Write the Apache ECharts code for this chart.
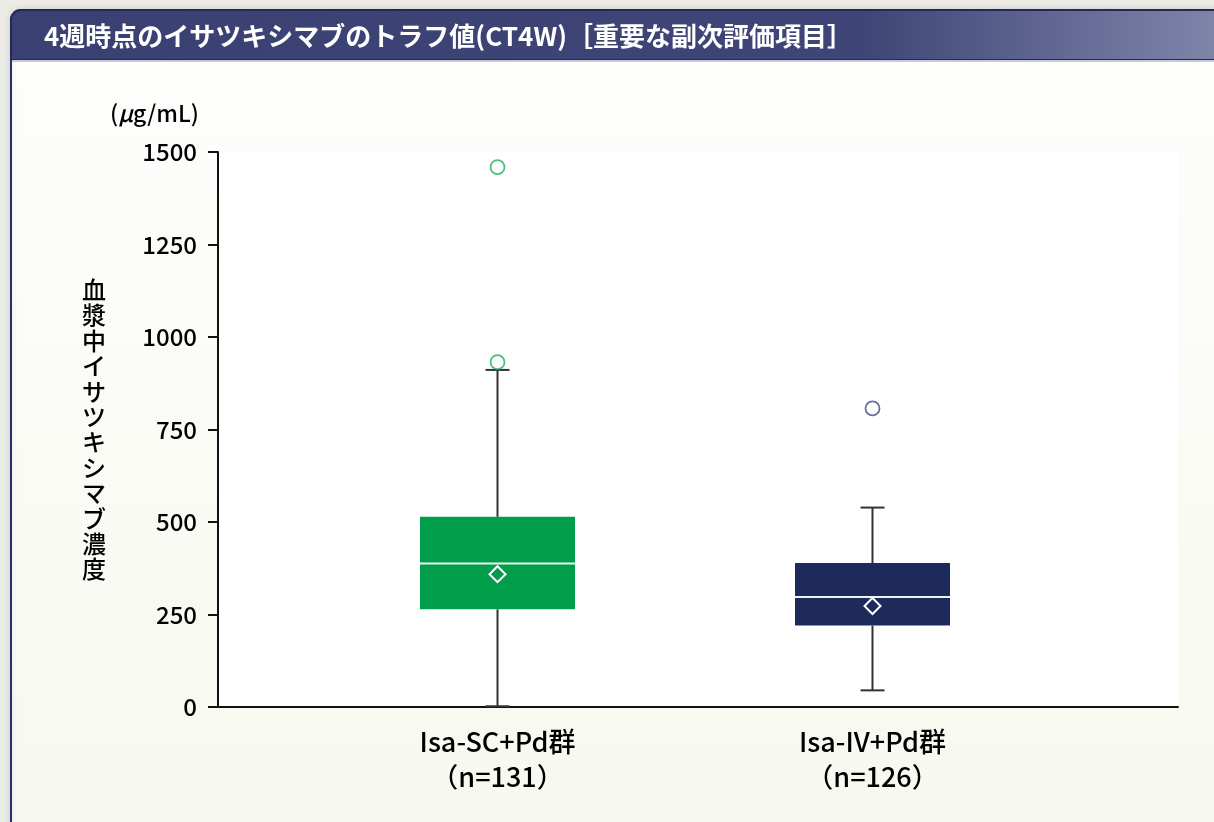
<!DOCTYPE html>
<html>
<head>
<meta charset="utf-8">
<script src="https://cdn.jsdelivr.net/npm/echarts@6/dist/echarts.min.js"></script>
<style>
  html, body { margin: 0; padding: 0; background: #ecece7; }
  #chart { width: 1214px; height: 822px; }
</style>
</head>
<body>
<div id="chart"></div>
<script>
// Trough concentration at week 4, by treatment group
const titleText = '4週時点のイサツキシマブのトラフ値(CT4W)［重要な副次評価項目］';
const yAxisTitle = '血漿中イサツキシマブ濃度';
const categories = ['Isa-SC+Pd群\n（n=131）', 'Isa-IV+Pd群\n（n=126）'];
const yTicks = { min: 0, max: 1500, interval: 250 };

// five-number summaries: [whisker low, Q1, median, Q3, whisker high]
const summarySC = [2, 264, 388, 514, 911];
const summaryIV = [45, 220, 297, 389, 539];
// group means (diamond markers)
const meanSC = 359;
const meanIV = 273;
// points outside the whiskers
const outliersSC = [1459, 932];
const outliersIV = [807];

const boxColors = ['#009e4b', '#1e2a5c'];
const outlierColors = ['#1fae62', '#3d4d80'];
const FONT = '"Noto Sans CJK JP", "Noto Sans", sans-serif';

const boxData = [
  [0, ...summarySC, meanSC],
  [1, ...summaryIV, meanIV]
];
const outlierData = [
  ...outliersSC.map(v => ({ value: [0, v], itemStyle: { borderColor: outlierColors[0] } })),
  ...outliersIV.map(v => ({ value: [1, v], itemStyle: { borderColor: outlierColors[1] } }))
];

const chart = echarts.init(document.getElementById('chart'), null, { renderer: 'canvas' });

function renderBox(params, api) {
  const idx = api.value(0);
  const low = api.value(1), q1 = api.value(2), med = api.value(3),
        q3 = api.value(4), high = api.value(5), mean = api.value(6);
  const pt = v => api.coord([idx, v]);
  const cx = pt(0)[0];
  const boxW = 155, capW = 24;
  const yLow = pt(low)[1], yQ1 = pt(q1)[1], yMed = pt(med)[1],
        yQ3 = pt(q3)[1], yHigh = pt(high)[1], yMean = pt(mean)[1];
  const whisker = { stroke: '#333333', lineWidth: 2 };
  const d = 8;
  return {
    type: 'group',
    children: [
      { type: 'line', shape: { x1: cx, y1: yHigh, x2: cx, y2: yQ3 }, style: whisker },
      { type: 'line', shape: { x1: cx, y1: yQ1, x2: cx, y2: yLow }, style: whisker },
      { type: 'line', shape: { x1: cx - capW / 2, y1: yHigh, x2: cx + capW / 2, y2: yHigh }, style: whisker },
      { type: 'line', shape: { x1: cx - capW / 2, y1: yLow, x2: cx + capW / 2, y2: yLow }, style: whisker },
      { type: 'rect', shape: { x: cx - boxW / 2, y: yQ3, width: boxW, height: yQ1 - yQ3 },
        style: { fill: boxColors[idx] } },
      { type: 'line', shape: { x1: cx - boxW / 2, y1: yMed, x2: cx + boxW / 2, y2: yMed },
        style: { stroke: '#eef4ee', lineWidth: 2 } },
      { type: 'polygon', shape: { points: [[cx, yMean - d], [cx + d, yMean], [cx, yMean + d], [cx - d, yMean]] },
        style: { fill: 'none', stroke: '#ffffff', lineWidth: 2 } }
    ]
  };
}

const option = {
  backgroundColor: '#ecece7',
  animation: false,
  graphic: [
    {
      type: 'rect', z: -10,
      shape: { x: 11, y: 10, width: 1220, height: 830, r: [10, 0, 0, 0] },
      style: {
        fill: new echarts.graphic.LinearGradient(0, 0, 0, 1, [
          { offset: 0, color: '#fefefd' },
          { offset: 1, color: '#f7f8ef' }
        ]),
        stroke: '#25306a', lineWidth: 2,
        shadowBlur: 6, shadowColor: 'rgba(0,0,0,0.12)'
      }
    },
    {
      type: 'rect', z: -9,
      shape: { x: 11, y: 10, width: 1220, height: 50, r: [10, 0, 0, 0] },
      style: {
        fill: new echarts.graphic.LinearGradient(0, 0, 1, 0, [
          { offset: 0, color: '#3a4172' },
          { offset: 0.7, color: '#3f4677' },
          { offset: 1, color: '#8287ab' }
        ]),
        stroke: '#222a5c', lineWidth: 2
      }
    },
    {
      type: 'line', z: -8,
      shape: { x1: 12, y1: 61, x2: 1214, y2: 61 },
      style: { stroke: '#c7c9dc', lineWidth: 2 }
    },
    {
      type: 'text', z: 5, x: 44, y: 36,
      style: {
        text: titleText, fill: '#ffffff', font: 'bold 26px ' + FONT,
        verticalAlign: 'middle', align: 'left'
      }
    },
    {
      type: 'text', z: 5, x: 199, y: 113,
      style: {
        text: '{p|(}{mu|μ}{p|g/mL)}',
        verticalAlign: 'middle', align: 'right',
        rich: {
          p: { fontSize: 23, fontFamily: FONT, fontWeight: 500, color: '#000000' },
          mu: { fontSize: 23, fontFamily: FONT, fontWeight: 500, fontStyle: 'italic', color: '#000000' }
        }
      }
    }
  ],
  grid: [
    { left: 218, right: 36, top: 152, bottom: 115, show: true, backgroundColor: '#ffffff', borderWidth: 0 },
    { left: 310, right: 154, top: 152, bottom: 115 }
  ],
  xAxis: [
    {
      type: 'value', gridIndex: 0, min: 0, max: 1,
      axisLine: { show: true, lineStyle: { color: '#111111', width: 2 } },
      axisTick: { show: false }, axisLabel: { show: false }, splitLine: { show: false }
    },
    {
      type: 'category', gridIndex: 1, data: categories,
      axisLine: { show: false }, axisTick: { show: false }, splitLine: { show: false },
      axisLabel: {
        fontSize: 27, fontFamily: FONT, fontWeight: 500, color: '#000000',
        lineHeight: 35, margin: 17, interval: 0
      }
    }
  ],
  yAxis: [
    {
      type: 'value', gridIndex: 0, min: yTicks.min, max: yTicks.max, interval: yTicks.interval,
      axisLine: { show: true, lineStyle: { color: '#111111', width: 2 } },
      axisTick: { show: true, inside: false, length: 10, lineStyle: { color: '#111111', width: 2 } },
      splitLine: { show: false },
      axisLabel: {
        fontSize: 24, fontFamily: FONT, fontWeight: 500, color: '#000000', margin: 21,
        formatter: v => String(v)
      },
      name: yAxisTitle.split('').join('\n'),
      nameLocation: 'middle', nameRotate: 0, nameGap: 112,
      nameTextStyle: { fontSize: 24, fontFamily: FONT, color: '#000000', lineHeight: 25.4, fontWeight: 500 }
    },
    {
      type: 'value', gridIndex: 1, min: yTicks.min, max: yTicks.max, show: false
    }
  ],
  series: [
    {
      type: 'custom', xAxisIndex: 1, yAxisIndex: 1,
      renderItem: renderBox,
      encode: { x: 0, y: [1, 2, 3, 4, 5, 6] },
      data: boxData, z: 3
    },
    {
      type: 'scatter', xAxisIndex: 1, yAxisIndex: 1,
      symbol: 'circle', symbolSize: 14,
      itemStyle: { color: '#ffffff', borderWidth: 1.8 },
      data: outlierData, z: 4
    }
  ]
};

chart.setOption(option);
</script>
</body>
</html>
